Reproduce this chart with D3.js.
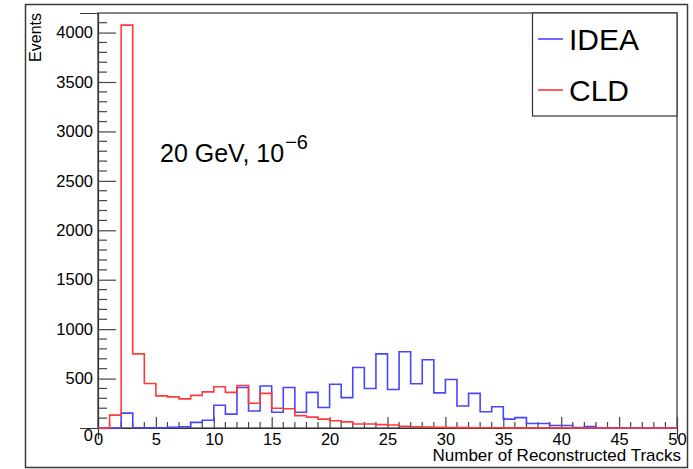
<!DOCTYPE html>
<html>
<head>
<meta charset="utf-8">
<script src="https://cdn.jsdelivr.net/npm/d3@7"></script>
<style>
  html, body { margin: 0; padding: 0; background: #fff; }
  svg { display: block; }
  text { font-family: "Liberation Sans", Arial, Helvetica, sans-serif; fill: #000; }
</style>
</head>
<body>
<svg id="chart" width="693" height="469"></svg>
<script>
// Number of reconstructed tracks per event, one entry per unit-width bin (0..49)
const bins = d3.range(0, 50);
const ideaCounts = [0, 0, 150, 3, 3, 3, 6, 13, 57, 78,
                    230, 140, 410, 172, 425, 160, 410, 160, 360, 208,
                    442, 307, 612, 400, 750, 390, 772, 447, 690, 355,
                    490, 222, 350, 165, 215, 90, 105, 45, 45, 25,
                    25, 5, 15, 0, 0, 0, 0, 0, 0, 0];
const cldCounts = [0, 130, 4075, 750, 450, 325, 315, 295, 330, 365,
                   418, 360, 430, 250, 350, 200, 195, 125, 110, 90,
                   74, 62, 40, 40, 34, 30, 17, 13, 10, 8,
                   5, 4, 3, 2, 2, 1, 1, 1, 0, 0,
                   0, 0, 0, 0, 0, 0, 0, 0, 0, 0];
const xTicks = [0, 5, 10, 15, 20, 25, 30, 35, 40, 45, 50];
const yTicks = [0, 500, 1000, 1500, 2000, 2500, 3000, 3500, 4000];
const seriesNames = ["IDEA", "CLD"];

const svg = d3.select("#chart");
const plotL = 98, plotR = 677, plotT = 13, plotB = 428;

const x = d3.scaleLinear().domain([0, 50]).range([plotL, plotR]);
const y = d3.scaleLinear().domain([0, 4198]).range([plotB, plotT]);

// outer canvas border
svg.append("rect")
  .attr("x", 25.5).attr("y", 4.5).attr("width", 662).attr("height", 463)
  .attr("fill", "none").attr("stroke", "#3a3a3a").attr("stroke-width", 1.5);

// plot frame
svg.append("rect")
  .attr("x", plotL).attr("y", plotT).attr("width", plotR - plotL).attr("height", plotB - plotT)
  .attr("fill", "none").attr("stroke", "#333").attr("stroke-width", 1.2);

// axes
const fmt = d3.format("d");
const xAxis = d3.axisBottom(x).tickValues(xTicks).tickFormat(fmt).tickSize(11);
const gx = svg.append("g").attr("transform", `translate(0,${plotB})`).call(xAxis);
const yAxis = d3.axisLeft(y).tickValues(yTicks).tickFormat(fmt).tickSize(18);
const gy = svg.append("g").attr("transform", `translate(${plotL},0)`).call(yAxis);

// ticks point into the plot area
gx.selectAll(".tick line").attr("y2", -11);
gy.selectAll(".tick line").attr("x2", 18);
[gx, gy].forEach(g => {
  g.select(".domain").attr("stroke", "#333").attr("stroke-width", 1.2);
  g.selectAll(".tick line").attr("stroke", "#444").attr("stroke-width", 1.2);
  g.selectAll(".tick text").style("font-size", "16.5px")
    .style("font-family", "'Liberation Sans', Arial, sans-serif").attr("fill", "#000");
});
gx.selectAll(".tick text").attr("y", 5).attr("dy", "0.71em");
gy.selectAll(".tick text").attr("x", -5)
  .attr("dy", d => d === 0 ? "0.75em" : "0.32em");

// minor ticks
const xMinor = d3.range(0, 51).filter(v => v % 5 !== 0);
svg.append("g").selectAll("line").data(xMinor).join("line")
  .attr("x1", d => x(d)).attr("x2", d => x(d))
  .attr("y1", plotB).attr("y2", plotB - 6)
  .attr("stroke", "#444").attr("stroke-width", 1.2);
const yMinor = d3.range(0, 4200, 100).filter(v => v % 500 !== 0);
svg.append("g").selectAll("line").data(yMinor).join("line")
  .attr("x1", plotL).attr("x2", plotL + 9)
  .attr("y1", d => y(d)).attr("y2", d => y(d))
  .attr("stroke", "#444").attr("stroke-width", 1.2);

// histogram outlines
function stepPoints(counts) {
  const pts = bins.map((b, i) => [b, counts[i]]);
  pts.push([50, counts[counts.length - 1]]);
  return pts;
}
const step = d3.line().x(d => x(d[0])).y(d => y(d[1])).curve(d3.curveStepAfter);
svg.append("path").attr("d", step(stepPoints(ideaCounts)))
  .attr("fill", "none").attr("stroke", "#4646ff").attr("stroke-width", 1.6);
svg.append("path").attr("d", step(stepPoints(cldCounts)))
  .attr("fill", "none").attr("stroke", "#ff3a3a").attr("stroke-width", 1.6);

// axis titles
svg.append("text")
  .attr("x", 681).attr("y", 461).attr("text-anchor", "end")
  .style("font-size", "17px").text("Number of Reconstructed Tracks");
svg.append("text")
  .attr("transform", "translate(41,13) rotate(-90)")
  .attr("text-anchor", "end")
  .style("font-size", "16px").text("Events");

// annotation
const ann = svg.append("text").attr("x", 160).attr("y", 162).style("font-size", "25px");
ann.append("tspan").text("20 GeV, 10");
ann.append("tspan").attr("dx", 1).attr("dy", -13).style("font-size", "20px").text("\u22126");

// legend
const legend = svg.append("g");
legend.append("rect")
  .attr("x", 532.5).attr("y", plotT).attr("width", plotR - 532.5).attr("height", 103)
  .attr("fill", "#fff").attr("stroke", "#333").attr("stroke-width", 1.2);
const legendColors = ["#4646ff", "#ff3a3a"];
const legendY = [39, 90];
seriesNames.forEach((name, i) => {
  legend.append("line")
    .attr("x1", 538).attr("x2", 563)
    .attr("y1", legendY[i]).attr("y2", legendY[i])
    .attr("stroke", legendColors[i]).attr("stroke-width", 1.6);
  legend.append("text")
    .attr("x", 569).attr("y", legendY[i] + 11)
    .style("font-size", "30px").text(name);
});
</script>
</body>
</html>
